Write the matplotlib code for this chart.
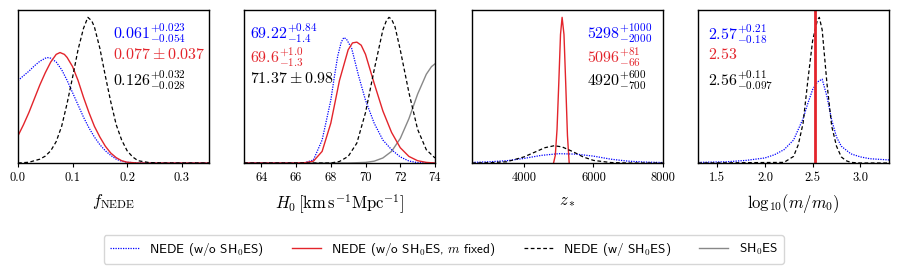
import matplotlib
matplotlib.use("Agg")
import matplotlib.pyplot as plt
from matplotlib.font_manager import FontProperties
from matplotlib.lines import Line2D

plt.rcParams["mathtext.fontset"] = "cm"
plt.rcParams["font.family"] = "serif"
plt.rcParams["font.serif"] = ["cmr10", "DejaVu Serif"]
plt.rcParams["axes.formatter.use_mathtext"] = True

BLUE = "#0000ff"
RED = "#e3242b"
GRAY = "#888888"

# ---- panel 1: f_NEDE ----
f_blue_x = [0.0, 0.01, 0.02, 0.03, 0.04, 0.05, 0.054, 0.06, 0.07, 0.08, 0.09, 0.10,
            0.11, 0.12, 0.13, 0.14, 0.15, 0.16, 0.17, 0.18, 0.19, 0.20, 0.22, 0.35]
f_blue_y = [0.539, 0.57, 0.60, 0.635, 0.665, 0.685, 0.689, 0.685, 0.66, 0.61, 0.54, 0.46,
            0.38, 0.30, 0.23, 0.17, 0.12, 0.08, 0.05, 0.025, 0.012, 0.005, 0.0, 0.0]
f_red_x = [0.0, 0.01, 0.02, 0.03, 0.04, 0.05, 0.06, 0.07, 0.077, 0.085, 0.09, 0.10,
           0.11, 0.12, 0.13, 0.14, 0.15, 0.16, 0.17, 0.18, 0.19, 0.20, 0.22, 0.35]
f_red_y = [0.178, 0.25, 0.33, 0.42, 0.51, 0.59, 0.66, 0.71, 0.722, 0.71, 0.69, 0.63,
           0.54, 0.43, 0.33, 0.24, 0.17, 0.11, 0.065, 0.035, 0.015, 0.005, 0.0, 0.0]
f_blk_x = [0.0, 0.02, 0.04, 0.05, 0.06, 0.07, 0.08, 0.09, 0.10, 0.11, 0.12, 0.128,
           0.135, 0.14, 0.15, 0.16, 0.17, 0.18, 0.19, 0.20, 0.21, 0.22, 0.24, 0.27, 0.35]
f_blk_y = [0.0, 0.005, 0.025, 0.045, 0.08, 0.14, 0.24, 0.39, 0.56, 0.74, 0.88, 0.952,
           0.93, 0.89, 0.75, 0.57, 0.40, 0.25, 0.15, 0.08, 0.04, 0.015, 0.003, 0.0, 0.0]

# ---- panel 2: H0 ----
h_blue_x = [63.0, 66.0, 66.5, 67.0, 67.5, 68.0, 68.2, 68.4, 68.6, 68.75, 68.9, 69.2,
            69.6, 70.0, 70.5, 71.0, 71.5, 72.0, 72.5, 73.0, 74.0]
h_blue_y = [0.0, 0.0, 0.002, 0.02, 0.15, 0.41, 0.56, 0.70, 0.79, 0.82, 0.81, 0.75,
            0.57, 0.41, 0.26, 0.15, 0.087, 0.04, 0.013, 0.002, 0.0]
h_red_x = [63.0, 66.0, 66.5, 67.0, 67.5, 68.0, 68.5, 69.0, 69.25, 69.5, 69.75, 70.0,
           70.5, 71.0, 71.5, 72.0, 72.5, 73.0, 73.5, 74.0]
h_red_y = [0.0, 0.0, 0.002, 0.012, 0.076, 0.26, 0.54, 0.74, 0.785, 0.79, 0.77, 0.71,
           0.52, 0.34, 0.20, 0.10, 0.043, 0.015, 0.004, 0.0]
h_blk_x = [63.0, 68.0, 68.5, 69.0, 69.5, 70.0, 70.5, 71.0, 71.2, 71.35, 71.5, 71.7,
           72.0, 72.5, 73.0, 73.5, 74.0]
h_blk_y = [0.0, 0.0, 0.01, 0.043, 0.13, 0.33, 0.61, 0.87, 0.93, 0.952, 0.94, 0.89,
           0.74, 0.46, 0.22, 0.087, 0.033]
h_gry_x = [63.0, 69.0, 70.0, 70.5, 71.0, 71.5, 72.0, 72.5, 73.0, 73.5, 73.8, 74.0]
h_gry_y = [0.0, 0.0, 0.004, 0.012, 0.033, 0.076, 0.16, 0.29, 0.45, 0.58, 0.63, 0.648]

# ---- panel 3: z_* ----
z_blue_x = [2500, 3000, 3500, 4000, 4500, 5000, 5500, 6000, 6500, 7000, 7500, 8000]
z_blue_y = [0.004, 0.008, 0.015, 0.03, 0.05, 0.061, 0.058, 0.045, 0.025, 0.012, 0.006, 0.003]
z_red_x = [4850, 4900, 4950, 5000, 5050, 5096, 5150, 5200, 5250, 5300]
z_red_y = [0.0, 0.05, 0.22, 0.52, 0.84, 0.952, 0.84, 0.52, 0.18, 0.0]
z_blk_x = [2500, 3000, 3500, 4000, 4300, 4600, 4870, 5100, 5400, 5700, 6000, 6500, 7000, 8000]
z_blk_y = [0.0, 0.002, 0.008, 0.04, 0.07, 0.10, 0.113, 0.105, 0.075, 0.04, 0.017, 0.003, 0.0, 0.0]

# ---- panel 4: log10(m/m0) ----
m_blue_x = [1.3, 1.6, 1.8, 2.0, 2.1, 2.2, 2.3, 2.4, 2.45, 2.5, 2.55, 2.6, 2.65, 2.7,
            2.75, 2.8, 2.9, 3.0, 3.1, 3.2, 3.3]
m_blue_y = [0.004, 0.008, 0.017, 0.033, 0.054, 0.087, 0.15, 0.29, 0.39, 0.48, 0.53, 0.548,
            0.435, 0.28, 0.17, 0.11, 0.06, 0.04, 0.028, 0.024, 0.02]
m_blk_x = [1.3, 2.2, 2.3, 2.35, 2.4, 2.45, 2.5, 2.55, 2.57, 2.6, 2.65, 2.7, 2.75, 2.8,
           2.85, 2.9, 3.0, 3.3]
m_blk_y = [0.0, 0.004, 0.043, 0.12, 0.26, 0.54, 0.80, 0.935, 0.952, 0.87, 0.52, 0.24, 0.11,
           0.04, 0.015, 0.004, 0.0, 0.0]
m_red_fixed = 2.53

# annotations (blue, red, black)
labels = [
    [r"$0.061^{+0.023}_{-0.054}$", r"$0.077\pm0.037$", r"$0.126^{+0.032}_{-0.028}$"],
    [r"$69.22^{+0.84}_{-1.4}$", r"$69.6^{+1.0}_{-1.3}$", r"$71.37\pm0.98$"],
    [r"$5298^{+1000}_{-2000}$", r"$5096^{+81}_{-66}$", r"$4920^{+600}_{-700}$"],
    [r"$2.57^{+0.21}_{-0.18}$", r"$2.53$", r"$2.56^{+0.11}_{-0.097}$"],
]
xlabels = [r"$f_{\rm NEDE}$", r"$H_0\,[{\rm km\,s^{-1}Mpc^{-1}}]$", r"$z_*$",
           r"${\rm log}_{10}(m/m_0)$"]
xlims = [(0, 0.35), (63, 74), (2500, 8000), (1.3, 3.3)]
xticks = [[0.0, 0.1, 0.2, 0.3], [64, 66, 68, 70, 72, 74], [4000, 6000, 8000],
          [1.5, 2.0, 2.5, 3.0]]
tickfmt = ["%.1f", "%d", "%d", "%.1f"]
text_x = [0.50, 0.03, 0.60, 0.05]
text_y = [[0.85, 0.71, 0.54], [0.85, 0.69, 0.555], [0.85, 0.69, 0.54], [0.84, 0.71, 0.54]]

fig = plt.figure(figsize=(9, 2.72), dpi=100)
lefts = [0.02, 0.2711, 0.5244, 0.7756]
axes = [fig.add_axes([l, 0.4007, 0.2122, 0.5625]) for l in lefts]

dot = dict(color=BLUE, ls=(0, (1, 1)), lw=0.9)
sol = dict(color=RED, ls="-", lw=1.0)
dash = dict(color="black", ls=(0, (3, 2)), lw=0.9)

axes[0].plot(f_blue_x, f_blue_y, **dot)
axes[0].plot(f_red_x, f_red_y, **sol)
axes[0].plot(f_blk_x, f_blk_y, **dash)

axes[1].plot(h_gry_x, h_gry_y, color=GRAY, lw=1.0)
axes[1].plot(h_blue_x, h_blue_y, **dot)
axes[1].plot(h_red_x, h_red_y, **sol)
axes[1].plot(h_blk_x, h_blk_y, **dash)

axes[2].plot(z_blue_x, z_blue_y, **dot)
axes[2].plot(z_red_x, z_red_y, **sol)
axes[2].plot(z_blk_x, z_blk_y, **dash)

axes[3].plot(m_blue_x, m_blue_y, **dot)
axes[3].plot(m_blk_x, m_blk_y, **dash)
axes[3].axvline(m_red_fixed, color=RED, lw=2.0)

for i, ax in enumerate(axes):
    ax.set_xlim(*xlims[i])
    ax.set_ylim(0, 1)
    ax.set_yticks([])
    ax.set_xticks(xticks[i])
    ax.set_xticklabels([tickfmt[i] % t for t in xticks[i]], fontsize=9)
    ax.tick_params(axis="x", length=3, width=0.8)
    ax.set_xlabel(xlabels[i], fontsize=12, labelpad=6)
    for s in ax.spines.values():
        s.set_linewidth(1.0)
    for txt, y, c in zip(labels[i], text_y[i], [BLUE, RED, "black"]):
        ax.text(text_x[i], y, txt, color=c, fontsize=11.5, transform=ax.transAxes,
                ha="left", va="center")

handles = [
    Line2D([], [], **dot),
    Line2D([], [], **sol),
    Line2D([], [], **dash),
    Line2D([], [], color=GRAY, lw=1.0),
]
names = ["NEDE (w/o SH$_0$ES)", "NEDE (w/o SH$_0$ES, $m$ fixed)", "NEDE (w/ SH$_0$ES)",
         "SH$_0$ES"]
prop = FontProperties(family=["cmss10", "DejaVu Sans"], size=9.5, math_fontfamily="cm")
fig.legend(handles, names, loc="center", bbox_to_anchor=(0.493, 0.083), ncol=4,
           prop=prop, frameon=True, edgecolor="#cccccc", handlelength=2.2,
           handletextpad=0.8, columnspacing=2.1, borderpad=0.45)

fig.savefig("out.png", dpi=100)
